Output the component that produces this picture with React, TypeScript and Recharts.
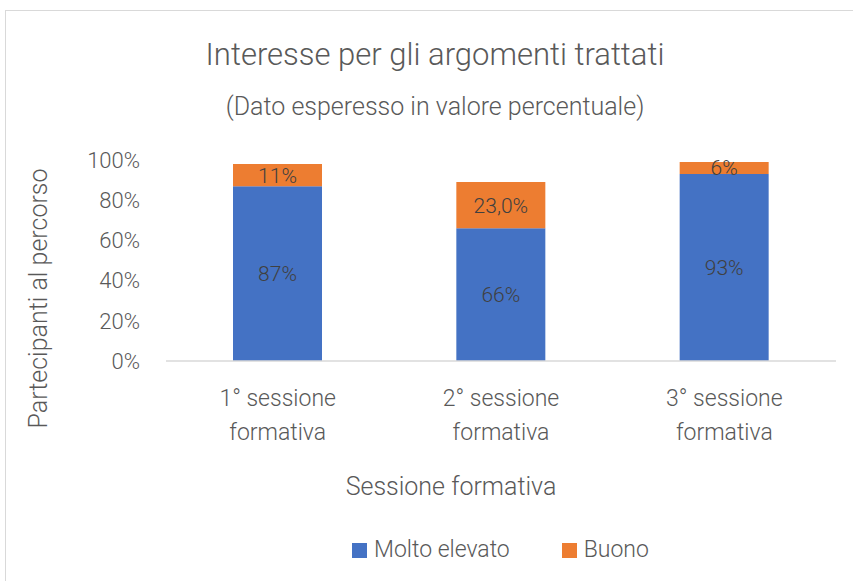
import React from "react";
import { BarChart, Bar, XAxis, YAxis, LabelList } from "recharts";

const categories = ["1° sessione formativa", "2° sessione formativa", "3° sessione formativa"];
const moltoElevato = [87, 66, 93];
const buono = [11, 23, 6];
const buonoLabels = ["11%", "23,0%", "6%"];
const moltoLabels = ["87%", "66%", "93%"];
const yTicks = [0, 20, 40, 60, 80, 100];
const seriesNames = ["Molto elevato", "Buono"];
const seriesColors = ["#4472C4", "#ED7D31"];

const data = categories.map((c, i) => ({
  name: c,
  molto: moltoElevato[i],
  buono: buono[i],
  moltoLabel: moltoLabels[i],
  buonoLabel: buonoLabels[i],
}));

const FONT = "Roboto, 'Open Sans', sans-serif";
const GRAY = "#595959";

const XTick = (props: any) => {
  const { x, y, payload } = props;
  const words = String(payload.value).split(" ");
  const line1 = words.slice(0, 2).join(" ");
  const line2 = words.slice(2).join(" ");
  return (
    <g transform={`translate(${x},${y})`}>
      <text textAnchor="middle" fill={GRAY} fontSize={23} fontWeight={300} fontFamily={FONT}>
        <tspan x={0} dy={37}>{line1}</tspan>
        <tspan x={0} dy={34}>{line2}</tspan>
      </text>
    </g>
  );
};

export default function App() {
  return (
    <div style={{ position: "absolute", left: 0, top: 0, width: 853, height: 581, background: "#fff", overflow: "hidden" }}>
      <div style={{ position: "absolute", left: 5, top: 10, width: 900, height: 700, border: "1px solid #d9d9d9", boxSizing: "border-box" }} />
      <div style={{ position: "absolute", left: 0, width: 870, top: 35, textAlign: "center", fontFamily: FONT, fontWeight: 300, fontSize: 31, color: GRAY, lineHeight: "40px" }}>
        Interesse per gli argomenti trattati
      </div>
      <div style={{ position: "absolute", left: 0, width: 870, top: 90, textAlign: "center", fontFamily: FONT, fontWeight: 300, fontSize: 25, color: GRAY, lineHeight: "34px" }}>
        (Dato esperesso in valore percentuale)
      </div>
      <div style={{ position: "absolute", left: 0, top: 0 }}>
        <BarChart
          width={853}
          height={581}
          data={data}
          margin={{ top: 160, right: 17, bottom: 190, left: 66 }}
          barCategoryGap="30%"
        >
          <XAxis
            dataKey="name"
            tick={<XTick />}
            tickLine={false}
            axisLine={{ stroke: "#d9d9d9", strokeWidth: 1.5 }}
            interval={0}
            height={30}
            label={{
              content: (p: any) => {
                const vb = p.viewBox;
                return (
                  <text x={vb.x + vb.width / 2 - 50} y={vb.y + 134} textAnchor="middle" fill={GRAY} fontSize={25} fontWeight={300} fontFamily={FONT}>
                    Sessione formativa
                  </text>
                );
              },
            }}
          />
          <YAxis
            domain={[0, 100]}
            ticks={yTicks}
            tickFormatter={(v: number) => `${v}%`}
            tickLine={false}
            axisLine={false}
            width={100}
            tickMargin={20}
            tick={{ fill: GRAY, fontSize: 22, fontWeight: 300, fontFamily: FONT }}
            label={{
              content: (p: any) => {
                const vb = p.viewBox;
                const cx = 38;
                const cy = vb.y + vb.height / 2 + 38;
                return (
                  <text x={cx} y={cy} transform={`rotate(-90 ${cx} ${cy})`} textAnchor="middle" dominantBaseline="central" fill={GRAY} fontSize={25} fontWeight={300} fontFamily={FONT}>
                    Partecipanti al percorso
                  </text>
                );
              },
            }}
          />
          <Bar dataKey="molto" name={seriesNames[0]} stackId="a" fill={seriesColors[0]} isAnimationActive={false}>
            <LabelList dataKey="moltoLabel" position="center" fill="#404040" fontSize={21} fontWeight={300} fontFamily={FONT} />
          </Bar>
          <Bar dataKey="buono" name={seriesNames[1]} stackId="a" fill={seriesColors[1]} isAnimationActive={false}>
            <LabelList dataKey="buonoLabel" position="center" fill="#404040" fontSize={21} fontWeight={300} fontFamily={FONT} />
          </Bar>
        </BarChart>
      </div>
      <div style={{ position: "absolute", left: 352, top: 535, display: "flex", alignItems: "center", fontFamily: FONT, fontWeight: 300, fontSize: 23, color: GRAY, lineHeight: "30px" }}>
        <span style={{ display: "inline-block", width: 15, height: 15, background: seriesColors[0], marginRight: 7 }} />
        <span style={{ marginRight: 52 }}>{seriesNames[0]}</span>
        <span style={{ display: "inline-block", width: 15, height: 15, background: seriesColors[1], marginRight: 7 }} />
        <span>{seriesNames[1]}</span>
      </div>
    </div>
  );
}
